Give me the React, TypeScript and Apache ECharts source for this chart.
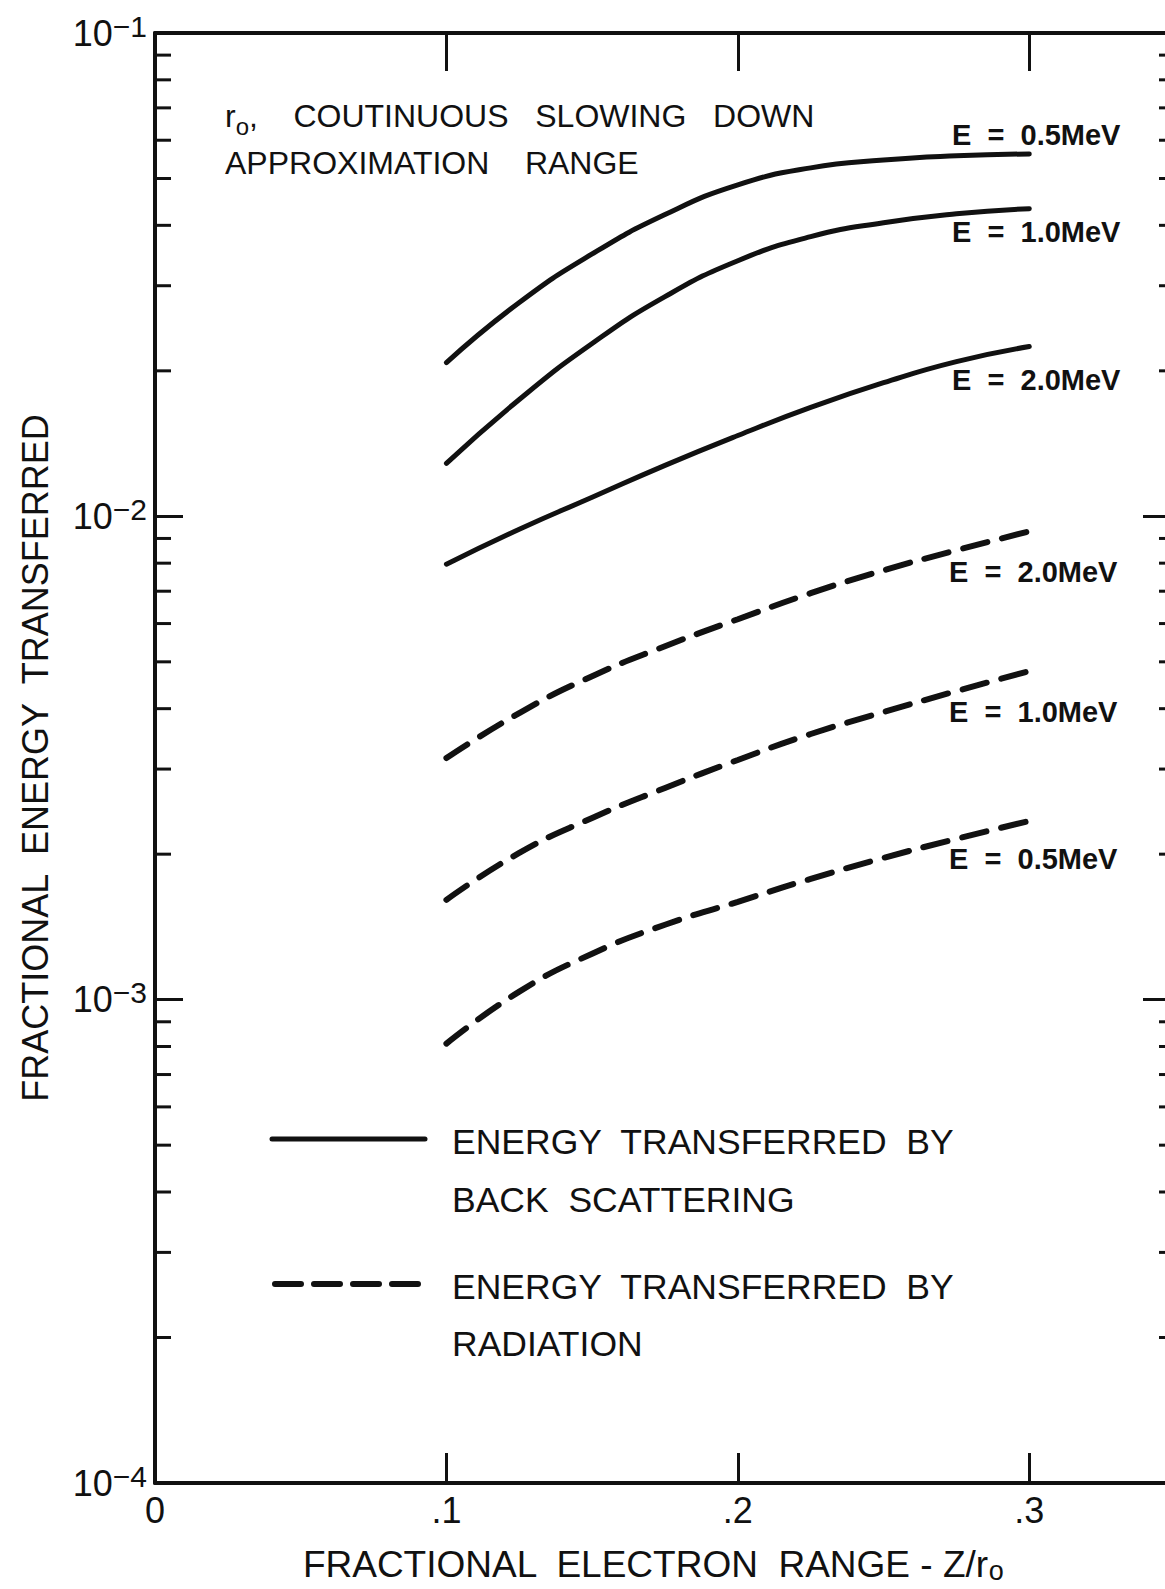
import React, { useEffect, useRef } from "react";
import * as echarts from "echarts";

// Fractional electron range Z/r0 at which each curve is read
const rangeFractions = [0.1, 0.125, 0.15, 0.175, 0.2, 0.225, 0.25, 0.275, 0.3];

// Energy transferred by back scattering
const backScatter05 = [0.0208, 0.0277, 0.0349, 0.0421, 0.0485, 0.0526, 0.0546, 0.0557, 0.0562];
const backScatter10 = [0.01287, 0.01745, 0.02278, 0.02848, 0.0338, 0.0379, 0.0405, 0.04227, 0.0433];
const backScatter20 = [0.00796, 0.0094, 0.01095, 0.01275, 0.0147, 0.0168, 0.0189, 0.0209, 0.02245];

// Energy transferred by radiation
const radiation20 = [0.003162, 0.003917, 0.00467, 0.005387, 0.006126, 0.006934, 0.007731, 0.008507, 0.009311];
const radiation10 = [0.001609, 0.002012, 0.002377, 0.002742, 0.003133, 0.003545, 0.003936, 0.004349, 0.004783];
const radiation05 = [0.000811, 0.001039, 0.001245, 0.001429, 0.001594, 0.001778, 0.001965, 0.002151, 0.002343];

// Axis ranges and tick labels
const X_MIN = 0;
const X_MAX = 0.35;
const xTickLabels: Record<string, string> = { "0": "0", "1": ".1", "2": ".2", "3": ".3" };
const Y_MIN = 1e-4;
const Y_MAX = 1e-1;
const minorDecades = [1e-4, 1e-3, 1e-2];
const minorSteps = [2, 3, 4, 5, 6, 7, 8, 9];

const energyLabels = ["E = 0.5MeV", "E = 1.0MeV", "E = 2.0MeV", "E = 2.0MeV", "E = 1.0MeV", "E = 0.5MeV"];

const INK = "#111111";
const FONT = "'Liberation Sans', Arial, Helvetica, sans-serif";

// The frame's right edge sits just past the visible page
const PAGE_W = 1165;
const PAGE_H = 1589;
const CHART_W = 1185;

function lineSeries(name: string, values: number[], dashed: boolean) {
  return {
    name,
    type: "line",
    xAxisIndex: 0,
    yAxisIndex: 0,
    data: rangeFractions.map((x, i) => [x, values[i]]),
    smooth: 0.5,
    showSymbol: false,
    silent: true,
    lineStyle: dashed
      ? { color: INK, width: 6, type: [25, 15], cap: "round" }
      : { color: INK, width: 5, cap: "round" },
  };
}

export default function App() {
  const ref = useRef<HTMLDivElement>(null);

  useEffect(() => {
    if (!ref.current) return;
    const chart = echarts.init(ref.current, undefined, { renderer: "svg" });

    const minorTicks: number[] = [];
    minorDecades.forEach((d) => minorSteps.forEach((s) => minorTicks.push(+(d * s).toPrecision(3))));

    const axisLine = { show: true, onZero: false, lineStyle: { color: INK, width: 4 } };

    const energyLabelPos = [
      [952, 135],
      [952, 232],
      [952, 380],
      [949, 572],
      [949, 712],
      [949, 859],
    ];

    const option: any = {
      animation: false,
      backgroundColor: "#ffffff",
      textStyle: { fontFamily: FONT, color: INK },
      grid: { left: 155, right: CHART_W - 1175, top: 33, bottom: 104, containLabel: false },
      xAxis: [
        {
          type: "value",
          position: "bottom",
          min: X_MIN,
          max: X_MAX,
          interval: 0.1,
          axisLine,
          axisTick: { show: true, inside: true, length: 30, lineStyle: { color: INK, width: 3 } },
          splitLine: { show: false },
          axisLabel: {
            show: true,
            margin: 9,
            fontSize: 36,
            color: INK,
            fontFamily: FONT,
            showMaxLabel: false,
            formatter: (v: number) => xTickLabels[String(Math.round(v * 10))] ?? "",
          },
          name: "FRACTIONAL  ELECTRON  RANGE - Z/r{sub|o}",
          nameLocation: "middle",
          nameGap: 61,
          nameTextStyle: {
            fontSize: 37,
            color: INK,
            fontFamily: FONT,
            lineHeight: 40,
            padding: [0, 24, 0, 0],
            rich: {
              sub: { fontSize: 27, lineHeight: 18, verticalAlign: "bottom", fontFamily: FONT, color: INK },
            },
          },
        },
        {
          type: "value",
          position: "top",
          min: X_MIN,
          max: X_MAX,
          interval: 0.1,
          axisLine,
          axisTick: { show: true, inside: true, length: 38, lineStyle: { color: INK, width: 3 } },
          splitLine: { show: false },
          axisLabel: { show: false },
        },
      ],
      yAxis: [
        {
          type: "log",
          logBase: 10,
          position: "left",
          min: Y_MIN,
          max: Y_MAX,
          axisLine,
          axisTick: { show: true, inside: true, length: 28, lineStyle: { color: INK, width: 3 } },
          splitLine: { show: false },
          minorTick: { show: false },
          axisLabel: {
            show: true,
            margin: 8,
            color: INK,
            fontFamily: FONT,
            formatter: (v: number) => `{b|10}{s|\u2212${-Math.round(Math.log10(v))}}`,
            rich: {
              b: { fontSize: 36, lineHeight: 44, fontFamily: FONT, color: INK },
              s: { fontSize: 30, lineHeight: 24, verticalAlign: "top", fontFamily: FONT, color: INK },
            },
          },
          name: "FRACTIONAL  ENERGY  TRANSFERRED",
          nameLocation: "middle",
          nameGap: 102,
          nameTextStyle: { fontSize: 36, color: INK, fontFamily: FONT },
        },
        {
          type: "log",
          logBase: 10,
          position: "right",
          min: Y_MIN,
          max: Y_MAX,
          axisLine,
          axisTick: { show: true, inside: true, length: 32, lineStyle: { color: INK, width: 3 } },
          splitLine: { show: false },
          axisLabel: { show: false },
        },
      ],
      series: [
        lineSeries("Back scattering, E = 0.5 MeV", backScatter05, false),
        lineSeries("Back scattering, E = 1.0 MeV", backScatter10, false),
        lineSeries("Back scattering, E = 2.0 MeV", backScatter20, false),
        lineSeries("Radiation, E = 2.0 MeV", radiation20, true),
        lineSeries("Radiation, E = 1.0 MeV", radiation10, true),
        lineSeries("Radiation, E = 0.5 MeV", radiation05, true),
        {
          // minor log ticks on the left and right frame edges
          type: "custom",
          xAxisIndex: 0,
          yAxisIndex: 0,
          silent: true,
          clip: false,
          data: minorTicks.map((v) => [X_MIN, v]),
          encode: { x: 0, y: 1 },
          renderItem: (_params: any, api: any) => {
            const v = api.value(1);
            const l = api.coord([X_MIN, v]);
            const r = api.coord([X_MAX, v]);
            return {
              type: "group",
              children: [
                { type: "line", shape: { x1: l[0], y1: l[1], x2: l[0] + 16, y2: l[1] }, style: { stroke: INK, lineWidth: 3 } },
                { type: "line", shape: { x1: r[0] - 16, y1: r[1], x2: r[0], y2: r[1] }, style: { stroke: INK, lineWidth: 3 } },
              ],
            };
          },
        },
      ],
      graphic: [
        {
          type: "text",
          left: 225,
          top: 100,
          style: {
            text: "{t|r}{sub|o}{t|,    COUTINUOUS   SLOWING   DOWN}\n{t|APPROXIMATION    RANGE}",
            fill: INK,
            rich: {
              t: { fontSize: 32, lineHeight: 47, fontFamily: FONT, fill: INK, verticalAlign: "top" },
              sub: { fontSize: 24, lineHeight: 44, fontFamily: FONT, fill: INK, verticalAlign: "top", padding: [14, 0, 0, 0] },
            },
          },
        },
        ...energyLabels.map((t, i) => ({
          type: "text",
          x: energyLabelPos[i][0],
          y: energyLabelPos[i][1],
          style: {
            text: t.replace(" = ", "  =  "),
            fontSize: 29,
            fontWeight: "bold",
            fontFamily: FONT,
            fill: INK,
            verticalAlign: "middle",
            align: "left",
          },
        })),
        {
          type: "line",
          shape: { x1: 272, y1: 1139, x2: 425, y2: 1139 },
          style: { stroke: INK, lineWidth: 5, lineCap: "round" },
        },
        {
          type: "line",
          shape: { x1: 275, y1: 1284, x2: 421, y2: 1284 },
          style: { stroke: INK, lineWidth: 6, lineCap: "round", lineDash: [26, 13] },
        },
        ...[
          ["ENERGY  TRANSFERRED  BY", 1142],
          ["BACK  SCATTERING", 1200],
          ["ENERGY  TRANSFERRED  BY", 1287],
          ["RADIATION", 1344],
        ].map(([t, y]) => ({
          type: "text",
          x: 452,
          y: y as number,
          style: {
            text: t as string,
            fontSize: 35.5,
            fontFamily: FONT,
            fill: INK,
            verticalAlign: "middle",
            align: "left",
          },
        })),
      ],
    };

    chart.setOption(option);
    return () => chart.dispose();
  }, []);

  return (
    <div
      style={{
        position: "absolute",
        left: 0,
        top: 0,
        width: PAGE_W,
        height: PAGE_H,
        overflow: "hidden",
        background: "#fff",
      }}
    >
      <div ref={ref} style={{ width: CHART_W, height: PAGE_H }} />
    </div>
  );
}
